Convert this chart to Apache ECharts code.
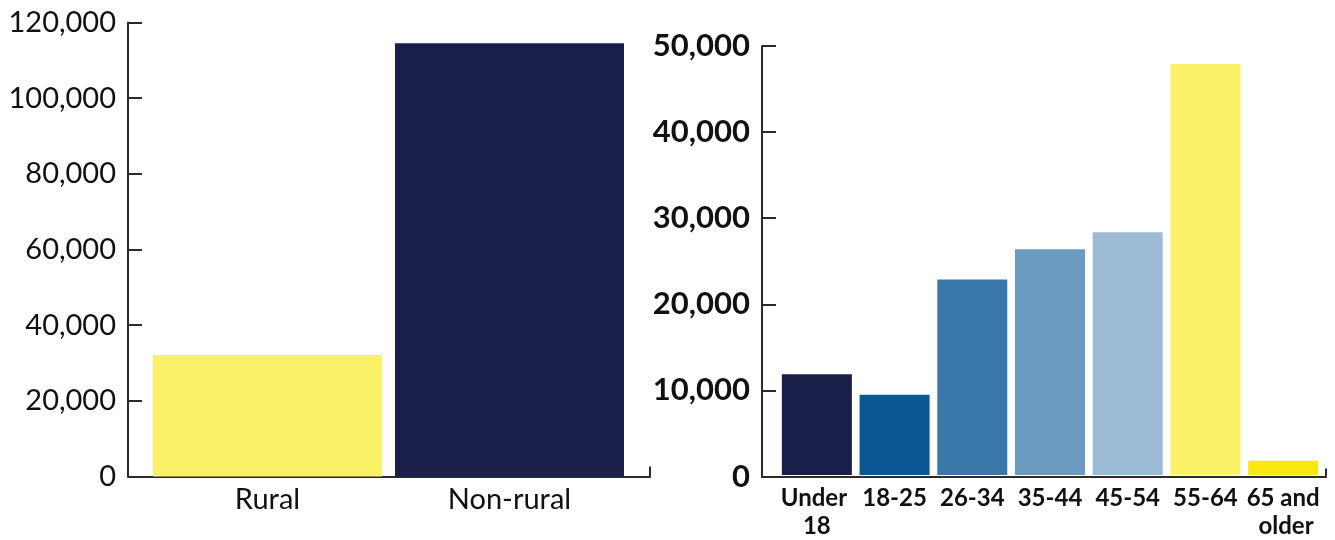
<!DOCTYPE html>
<html>
<head>
<meta charset="UTF-8">
<title>Rural / age bars</title>
<style>
  html, body { margin: 0; padding: 0; background: #fff; }
  #main { width: 1335px; height: 540px; }
</style>
<script src="https://cdn.jsdelivr.net/npm/echarts@6/dist/echarts.min.js"></script>
</head>
<body>
<div id="main"></div>
<script>
// data
var areaNames = ['Rural', 'Non-rural'];
var areaValues = [32100, 114500];
var areaColors = ['#f9f168', '#1a1f4a'];

var ageNames = ['Under 18', '18-25', '26-34', '35-44', '45-54', '55-64', '65 and older'];
var ageValues = [11750, 9350, 22800, 26300, 28300, 47900, 1650];
var ageColors = ['#1a1f4a', '#0b5794', '#3b78aa', '#6c9bc2', '#9dbbd5', '#f9f168', '#f9e80f'];

var axisColor = '#2b2b2b';
var fmt = function (v) { return v.toLocaleString('en-US'); };

function coloured(values, colors) {
  return values.map(function (v, i) {
    return { value: v, itemStyle: { color: colors[i] } };
  });
}

// only the closing tick at the far end of the category axis
function endTick(names) {
  return function (idx) { return idx === names.length - 1; };
}

var chart = echarts.init(document.getElementById('main'));

var option = {
  animation: false,
  textStyle: { fontFamily: 'Lato' },
  grid: [
    { left: 146.5, width: 484, top: 22.5, height: 454 },   // left bars
    { left: 128, width: 522, top: 22.5, height: 454 },     // left frame
    { left: 778, width: 544, top: 46, height: 430.5 },     // right bars
    { left: 762, width: 564, top: 46, height: 430.5 }      // right frame
  ],
  xAxis: [
    {
      gridIndex: 0, type: 'category', data: areaNames,
      axisLine: { show: false }, axisTick: { show: false },
      axisLabel: { color: '#111', fontSize: 29, fontFamily: 'Lato', margin: 9 }
    },
    {
      gridIndex: 1, type: 'category', data: areaNames,
      axisLine: { lineStyle: { color: axisColor, width: 2 } },
      axisTick: { show: true, inside: true, length: 10, interval: endTick(areaNames),
        lineStyle: { color: axisColor, width: 2 } },
      axisLabel: { show: false }
    },
    {
      gridIndex: 2, type: 'category', data: ageNames,
      axisLine: { show: false }, axisTick: { show: false },
      axisLabel: { color: '#111', fontSize: 24, fontWeight: 'bold', fontFamily: 'Lato',
        margin: 9, interval: 0, width: 78, overflow: 'break', lineHeight: 28 }
    },
    {
      gridIndex: 3, type: 'category', data: ageNames,
      axisLine: { lineStyle: { color: axisColor, width: 2 } },
      axisTick: { show: true, inside: true, length: 8, interval: endTick(ageNames),
        lineStyle: { color: axisColor, width: 2 } },
      axisLabel: { show: false }
    }
  ],
  yAxis: [
    { gridIndex: 0, type: 'value', min: 0, max: 120000, show: false },
    {
      gridIndex: 1, type: 'value', min: 0, max: 120000, interval: 20000,
      axisLine: { show: true, lineStyle: { color: axisColor, width: 2 } },
      axisTick: { show: true, inside: true, length: 14, lineStyle: { color: axisColor, width: 2 } },
      splitLine: { show: false },
      axisLabel: { color: '#111', fontSize: 29, fontFamily: 'Lato', margin: 12, formatter: fmt }
    },
    { gridIndex: 2, type: 'value', min: 0, max: 50000, show: false },
    {
      gridIndex: 3, type: 'value', min: 0, max: 50000, interval: 10000,
      axisLine: { show: true, lineStyle: { color: axisColor, width: 2 } },
      axisTick: { show: true, inside: true, length: 14, lineStyle: { color: axisColor, width: 2 } },
      splitLine: { show: false },
      axisLabel: { color: '#111', fontSize: 31, fontWeight: 'bold', fontFamily: 'Lato', margin: 12, formatter: fmt }
    }
  ],
  series: [
    {
      name: 'Area', type: 'bar', xAxisIndex: 0, yAxisIndex: 0,
      barWidth: 229, data: coloured(areaValues, areaColors)
    },
    {
      name: 'Age', type: 'bar', xAxisIndex: 2, yAxisIndex: 2,
      barWidth: 70, data: coloured(ageValues, ageColors)
    }
  ]
};

chart.setOption(option);
</script>
</body>
</html>
